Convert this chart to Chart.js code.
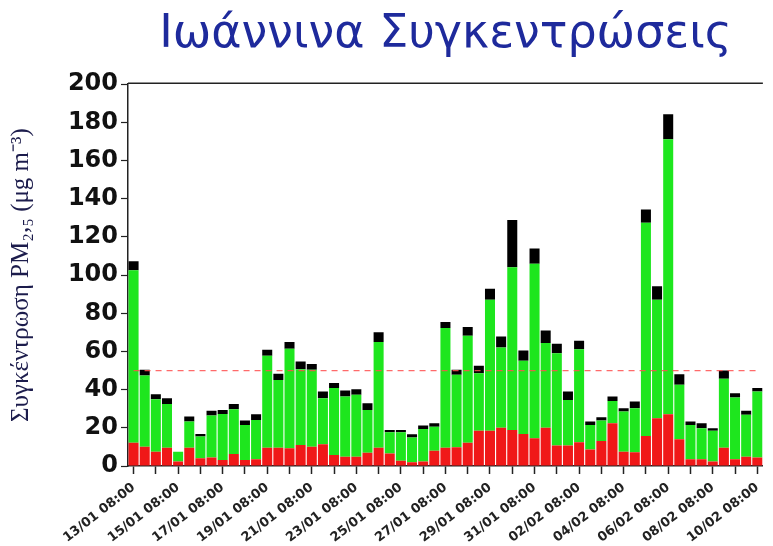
<!DOCTYPE html>
<html>
<head>
<meta charset="utf-8">
<script src="https://cdn.jsdelivr.net/npm/chart.js@4/dist/chart.umd.min.js"></script>
<style>
    html, body { margin: 0; padding: 0; background: #fff; overflow: hidden; }
    #wrap { position: relative; width: 773px; height: 546px; }
</style>
</head>
<body>
<div id="wrap"><canvas id="pmChart" width="773" height="546"></canvas></div>
<script>
// Days of the campaign, two samples per day (08:00 and 20:00)
const days = ['13/01', '14/01', '15/01', '16/01', '17/01', '18/01', '19/01', '20/01', '21/01', '22/01',
    '23/01', '24/01', '25/01', '26/01', '27/01', '28/01', '29/01', '30/01', '31/01', '01/02',
    '02/02', '03/02', '04/02', '05/02', '06/02', '07/02', '08/02', '09/02', '10/02'];
const hours = ['08:00', '20:00'];

// PM2.5 fractions (ug/m3)
const redValues = [12.2, 10.1, 7.5, 9.6, 2.3, 9.6, 4.0, 4.5, 3.1, 6.3,
    3.1, 3.5, 9.6, 9.6, 9.3, 11.0, 10.1, 11.4, 5.8, 4.9,
    4.9, 7.0, 9.6, 6.6, 2.8, 1.9, 2.3, 8.0, 9.6, 9.8,
    12.2, 18.5, 18.5, 20.1, 18.9, 16.8, 14.5, 20.1, 10.7, 10.7,
    12.4, 8.7, 13.1, 22.4, 7.5, 7.2, 15.7, 25.0, 27.1, 14.0,
    3.5, 3.5, 2.3, 9.6, 3.5, 4.9, 4.5];
const greenValues = [90.3, 37.3, 27.5, 22.9, 5.2, 13.7, 11.4, 21.9, 24.2, 23.4,
    18.4, 20.6, 48.1, 35.5, 52.1, 39.7, 40.3, 24.1, 35.0, 31.5,
    32.4, 22.4, 55.3, 11.1, 14.9, 13.0, 17.1, 12.6, 62.7, 38.0,
    56.0, 30.1, 68.6, 42.0, 85.2, 38.3, 91.5, 44.3, 48.4, 23.9,
    48.8, 12.8, 10.7, 11.7, 21.0, 23.1, 111.7, 62.1, 144.0, 28.5,
    18.0, 16.3, 16.2, 36.1, 32.4, 21.9, 34.5];
const blackValues = [4.8, 3.0, 2.6, 3.0, 0, 2.6, 1.4, 2.5, 2.1, 2.8,
    2.3, 3.0, 3.2, 3.2, 3.5, 4.1, 3.0, 3.5, 2.7, 3.1,
    2.9, 3.5, 5.1, 1.2, 1.2, 1.7, 1.8, 1.8, 3.1, 2.6,
    4.6, 3.9, 5.8, 5.8, 24.7, 5.4, 7.9, 6.6, 4.9, 4.4,
    4.4, 1.8, 1.7, 2.3, 1.8, 3.5, 7.0, 7.0, 13.2, 5.6,
    1.8, 2.6, 1.3, 4.3, 2.2, 2.2, 1.8];
const limitValue = 50;

const labels = days.flatMap(d => hours.map(h => `${d} ${h}`)).slice(0, redValues.length);

// frame line along the top of the plot
const topFrame = {
    id: 'topFrame',
    afterDraw(chart) {
        const { ctx, chartArea } = chart;
        ctx.save();
        ctx.strokeStyle = '#222';
        ctx.lineWidth = 1.5;
        ctx.beginPath();
        ctx.moveTo(chartArea.left, chartArea.top - 1);
        ctx.lineTo(chartArea.right, chartArea.top - 1);
        ctx.stroke();
        ctx.restore();
    }
};

const barCommon = { barPercentage: 0.9, categoryPercentage: 1.0, stack: 'pm', order: 1, borderWidth: 0 };

new Chart(document.getElementById('pmChart'), {
    type: 'bar',
    data: {
        labels: labels,
        datasets: [
            { ...barCommon, label: 'red', data: redValues, backgroundColor: '#f01818' },
            { ...barCommon, label: 'green', data: greenValues, backgroundColor: '#1ee61e' },
            { ...barCommon, label: 'black', data: blackValues, backgroundColor: '#000000' },
            {
                type: 'line',
                label: 'limit',
                data: labels.map(() => limitValue),
                stack: 'limit',
                order: 0,
                borderColor: 'rgba(255, 80, 80, 0.85)',
                borderWidth: 1.2,
                borderDash: [6, 5],
                pointRadius: 0,
                fill: false
            }
        ]
    },
    options: {
        responsive: false,
        animation: false,
        layout: { padding: { left: 0, right: 0, top: 0, bottom: 0 } },
        plugins: {
            legend: { display: false },
            tooltip: { enabled: false },
            title: {
                display: true,
                text: 'Ιωάννινα Συγκεντρώσεις',
                color: '#1e2a9c',
                fullSize: false,
                font: { family: 'DejaVu Sans', size: 46, weight: 'normal', lineHeight: 1.2 },
                padding: { top: 7, bottom: 22 }
            }
        },
        scales: {
            x: {
                stacked: true,
                offset: true,
                grid: {
                    offset: false,
                    drawOnChartArea: false,
                    tickLength: 8,
                    tickWidth: 1.5,
                    tickColor: ctx => (ctx.index % 2 === 0 ? '#222' : 'rgba(0,0,0,0)')
                },
                border: { display: true, color: '#222', width: 1.5 },
                ticks: {
                    autoSkip: false,
                    minRotation: 38,
                    maxRotation: 38,
                    padding: 6,
                    color: '#222',
                    font: { family: 'DejaVu Sans', size: 13, weight: 'bold' },
                    callback: (v, i) => (i % 4 === 0 ? labels[i] : '')
                },
                afterFit: scale => { scale.height = 80; }
            },
            y: {
                stacked: true,
                min: 0,
                max: 200,
                grid: {
                    drawOnChartArea: false,
                    tickLength: 7,
                    tickWidth: 1.2,
                    tickColor: '#222'
                },
                border: { display: true, color: '#222', width: 1.5 },
                ticks: {
                    stepSize: 10,
                    padding: 3,
                    color: '#111',
                    font: { family: 'DejaVu Sans', size: 24, weight: 'bold' },
                    callback: v => (v % 20 === 0 ? v : '')
                },
                title: {
                    display: true,
                    text: 'Συγκέντρωση PM₂,₅ (μg m⁻³)',
                    color: '#1c1c4c',
                    font: { family: 'Liberation Serif', size: 25 },
                    padding: { top: 6, bottom: 0 }
                },
                afterFit: scale => { scale.width = 128; }
            }
        }
    },
    plugins: [topFrame]
});
</script>
</body>
</html>
